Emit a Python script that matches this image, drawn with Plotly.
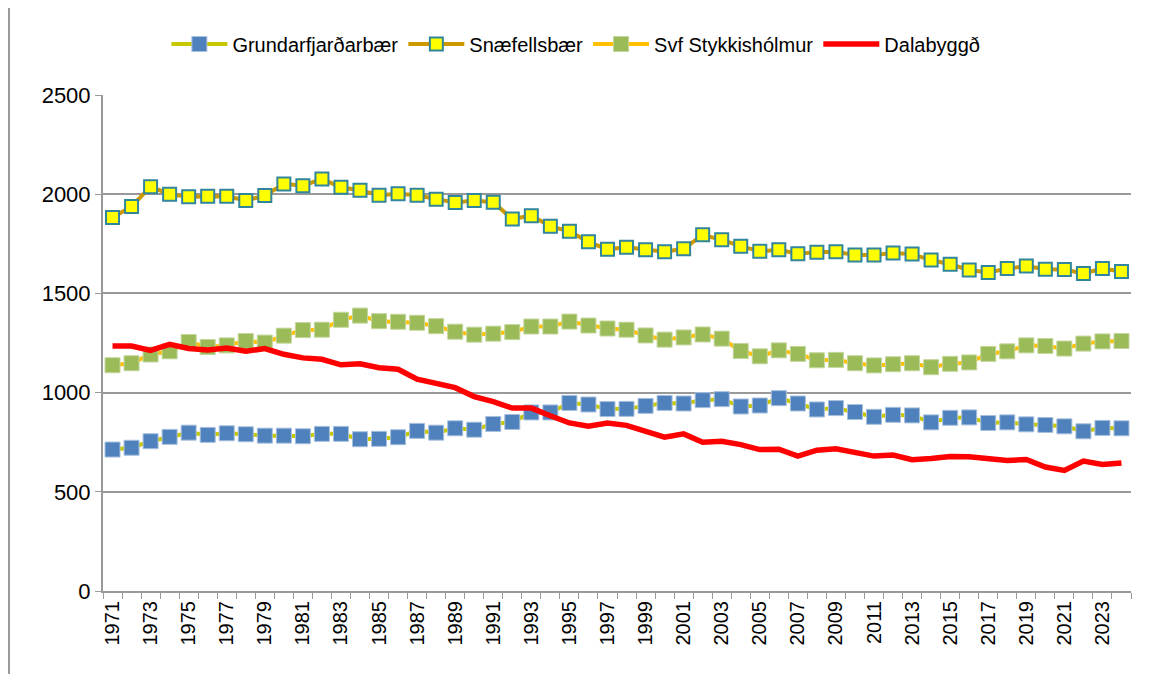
import plotly.graph_objects as go

years = list(range(1971, 2025))

grundarfjordur = [713, 722, 755, 777, 798, 787, 795, 790, 783, 783,
                  780, 792, 792, 765, 767, 775, 807, 798, 820, 813,
                  842, 852, 900, 900, 948, 940, 917, 918, 933, 948,
                  945, 962, 967, 930, 935, 972, 945, 915, 922, 902,
                  878, 888, 885, 850, 873, 875, 847, 850, 840, 837,
                  830, 805, 822, 820]

snaefellsbaer = [1883, 1938, 2038, 2000, 1987, 1990, 1990, 1968, 1993, 2052,
                 2043, 2077, 2035, 2020, 1995, 2002, 1995, 1975, 1958, 1968,
                 1960, 1875, 1892, 1838, 1813, 1760, 1722, 1733, 1720, 1710,
                 1725, 1795, 1770, 1738, 1712, 1720, 1700, 1708, 1710, 1693,
                 1693, 1703, 1698, 1668, 1647, 1618, 1605, 1625, 1638, 1622,
                 1620, 1600, 1625, 1610]

stykkisholmur = [1138, 1148, 1192, 1208, 1255, 1230, 1238, 1260, 1252, 1287,
                 1315, 1317, 1367, 1388, 1360, 1357, 1352, 1335, 1307, 1292,
                 1297, 1305, 1333, 1333, 1358, 1338, 1323, 1317, 1288, 1267,
                 1278, 1293, 1272, 1210, 1183, 1213, 1195, 1163, 1165, 1148,
                 1137, 1143, 1148, 1128, 1145, 1152, 1195, 1208, 1238, 1235,
                 1222, 1247, 1258, 1260]

dalabyggd = [1235, 1235, 1213, 1243, 1222, 1215, 1225, 1208, 1222, 1193,
             1175, 1168, 1140, 1145, 1125, 1118, 1068, 1045, 1025, 980,
             955, 922, 922, 883, 847, 830, 847, 835, 802, 775,
             792, 750, 755, 738, 713, 715, 680, 710, 717, 697,
             680, 685, 662, 668, 678, 677, 668, 658, 663, 625,
             608, 655, 638, 645]

tick_years = list(range(1971, 2025, 2))

fig = go.Figure()
fig.add_trace(go.Scatter(
    x=years, y=grundarfjordur, name="Grundarfjarðarbær", mode="lines+markers",
    line=dict(color="#C8C800", width=4),
    marker=dict(symbol="square", size=15, color="#4F81BD",
                line=dict(color="#A7C0DE", width=1))))
fig.add_trace(go.Scatter(
    x=years, y=snaefellsbaer, name="Snæfellsbær", mode="lines+markers",
    line=dict(color="#CC9900", width=4),
    marker=dict(symbol="square", size=13, color="#FFFF00",
                line=dict(color="#31859C", width=2))))
fig.add_trace(go.Scatter(
    x=years, y=stykkisholmur, name="Svf Stykkishólmur", mode="lines+markers",
    line=dict(color="#FFC000", width=4),
    marker=dict(symbol="square", size=15, color="#9BBB59",
                line=dict(color="#C3D69B", width=1))))
fig.add_trace(go.Scatter(
    x=years, y=dalabyggd, name="Dalabyggð", mode="lines",
    line=dict(color="#FF0000", width=5.5)))

# page body has an 8px margin
W, H = 1147, 666
L, R, T, B = 95, 24, 87, 83
pw, ph = W - L - R, H - T - B

fig.update_layout(
    width=W, height=H,
    margin=dict(l=L, r=R, t=T, b=B, autoexpand=False),
    paper_bgcolor="white", plot_bgcolor="white",
    font=dict(family="Liberation Sans, Arial, sans-serif", color="black"),
    showlegend=True,
    legend=dict(orientation="h", x=0.46, xanchor="center",
                y=(H - B - 36) / ph, yanchor="middle",
                font=dict(family="Liberation Sans Narrow, Liberation Sans, sans-serif", size=20),
                itemwidth=56, tracegroupgap=0, bgcolor="rgba(0,0,0,0)"),
    xaxis=dict(range=[1970.5, 2024.5], tickmode="array", tickvals=tick_years,
               ticktext=[str(y) for y in tick_years], tickangle=-90,
               tickfont=dict(size=20), ticks="", showgrid=False,
               showline=True, linecolor="#999999", linewidth=2, zeroline=False,
               automargin=False,
               minor=dict(ticks="outside", tick0=1970.5, dtick=1, ticklen=6,
                          tickcolor="#999999", tickwidth=1, showgrid=False)),
    yaxis=dict(range=[0, 2500], tickvals=[0, 500, 1000, 1500, 2000, 2500],
               tickfont=dict(size=22), ticks="outside", ticklen=6,
               tickcolor="#999999", showgrid=True, gridcolor="#999999",
               gridwidth=2, showline=True, linecolor="#999999", linewidth=2,
               zeroline=False, automargin=False),
    shapes=[dict(type="line", xref="paper", yref="paper",
                 x0=(1 - L) / pw, x1=(1 - L) / pw,
                 y0=-B / ph, y1=(H - B) / ph,
                 line=dict(color="#999999", width=2))],
)

fig.write_html("out.html")
